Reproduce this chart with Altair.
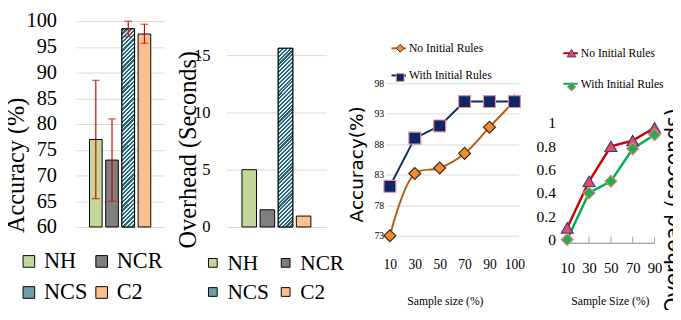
import altair as alt
import pandas as pd

# ---------------- data ----------------
methods = ["NH", "NCR", "NCS", "C2"]
acc_mean = [77.0, 73.0, 98.5, 97.5]
acc_low = [65.5, 65.0, 97.0, 95.7]
acc_high = [88.5, 81.0, 100.0, 99.4]
overhead_sec = [5.0, 1.5, 15.6, 0.95]
legend_col1 = ["NH", "NCS"]
legend_col2 = ["NCR", "C2"]

series_names = ["No Initial Rules", "With Initial Rules"]
acc_sizes = ["10", "30", "50", "70", "90", "100"]
acc_no_init = [73.0, 83.2, 84.1, 86.5, 90.8, 95.1]
acc_with_init = [81.1, 89.0, 91.0, 95.0, 95.0, 95.0]

ovh_sizes = ["10", "30", "50", "70", "90"]
ovh_no_init = [0.10, 0.50, 0.80, 0.85, 0.96]
ovh_with_init = [0.00, 0.40, 0.50, 0.78, 0.90]

acc_ticks = [60, 65, 70, 75, 80, 85, 90, 95, 100]
ovh_ticks = [0, 5, 10, 15]
acc2_ticks = [73, 78, 83, 88, 93, 98]
ovh2_ticks = [0, 0.2, 0.4, 0.6, 0.8, 1]

# ---------------- styles ----------------
SERIF = "Liberation Serif"
SANS = "DejaVu Sans"
bar_colors = ["#C4D79B", "#7F7F7F", "#6E9DAA", "#FAC08F"]
err_red = "#D00000"
grid_gray = "#D9D9D9"
axis_gray = "#A6A6A6"


def hatch(w, h, n=50, dark="#2A6677", light="#DCEBF0", frac=0.55):
    b = (w + h) * h / (h * h + w * w)
    a = b * w / h
    stops = []
    for i in range(n):
        s0, s1, s2 = i / n, (i + frac) / n, min((i + 1) / n, 1.0)
        stops += [
            alt.GradientStop(color=dark, offset=s0),
            alt.GradientStop(color=dark, offset=s1),
            alt.GradientStop(color=light, offset=s1),
            alt.GradientStop(color=light, offset=s2),
        ]
    return alt.LinearGradient(gradient="linear", stops=stops, x1=0, y1=0, x2=a, y2=b)


def spacer(w):
    # invisible rule: defines the gap width and a fixed top extent for the layout
    return (
        alt.Chart(pd.DataFrame({"v": [0]}))
        .mark_rule(opacity=0, strokeWidth=0.01)
        .encode(x=alt.X(datum=0, scale=alt.Scale(domain=[0, 1]), axis=None),
                x2=alt.datum(1), y=alt.value(-30))
        .properties(width=w, height=1)
    )


def bar_legend(values, lx, ly, size, font, offset, rowpad):
    return alt.Legend(
        values=values, orient="none", legendX=lx, legendY=ly, direction="vertical",
        title=None, symbolType="square", symbolSize=size, symbolStrokeColor="black",
        symbolStrokeWidth=1, symbolOpacity=1, labelFont=SERIF, labelFontSize=font,
        labelOffset=offset, rowPadding=rowpad, labelColor="black", padding=0,
        labelLimit=300,
    )


# ---------------- panel 1: accuracy bars ----------------
df1 = pd.DataFrame({"method": methods, "acc": acc_mean, "lo": acc_low, "hi": acc_high})
x1 = alt.X("method:N", sort=methods,
           scale=alt.Scale(paddingInner=0.22, paddingOuter=0.835), axis=None)
y1_scale = alt.Scale(domain=[60, 100], nice=False, zero=False)
ax1 = alt.Axis(
    values=acc_ticks, grid=True, gridColor=grid_gray, domain=False, ticks=False,
    labelFont=SERIF, labelFontSize=21, labelPadding=20, labelColor="black",
    title="Accuracy (%)", titleFont=SERIF, titleFontSize=25, titleFontWeight="normal",
    titleColor="black", titleX=-62, titleY=148, titleBaseline="middle")
base1 = alt.Chart(df1)
bars1 = base1.mark_bar(stroke="black", strokeWidth=1).encode(
    x=x1, y=alt.Y("acc:Q", scale=y1_scale, axis=ax1), y2=alt.datum(60),
    color=alt.Color("method:N", sort=methods,
                    scale=alt.Scale(domain=methods, range=bar_colors),
                    legend=bar_legend(legend_col1, -60, 236, 144, 23, 4, 8)))
leg1b = base1.transform_calculate(method_b="datum.method").mark_square(
    opacity=0, size=1).encode(
    x=x1, y=alt.Y("acc:Q", scale=y1_scale, axis=ax1),
    fill=alt.Fill("method_b:N", scale=alt.Scale(range=bar_colors),
                  sort=methods, legend=bar_legend(legend_col2, 15, 236, 144, 23, 4, 8)))
hatch1 = base1.transform_filter(alt.datum.method == "NCS").mark_bar(
    fill=hatch(13, 204), stroke="black", strokeWidth=1).encode(
    x=x1, y=alt.Y("acc:Q", scale=y1_scale, axis=ax1), y2=alt.datum(60))
err1 = base1.mark_rule(color=err_red, strokeWidth=1.2).encode(
    x=x1, y=alt.Y("lo:Q", scale=y1_scale, axis=ax1), y2="hi:Q")
cap_lo = base1.mark_tick(color=err_red, size=8, thickness=1.2).encode(
    x=x1, y=alt.Y("lo:Q", scale=y1_scale, axis=ax1))
cap_hi = base1.mark_tick(color=err_red, size=8, thickness=1.2).encode(
    x=x1, y=alt.Y("hi:Q", scale=y1_scale, axis=ax1))
p1 = alt.layer(bars1, leg1b, hatch1, err1, cap_lo, cap_hi).properties(width=91, height=212)

# ---------------- panel 2: overhead bars ----------------
df2 = pd.DataFrame({"method2": methods, "sec": overhead_sec})
x2 = alt.X("method2:N", sort=methods,
           scale=alt.Scale(paddingInner=0.197, paddingOuter=0.857), axis=None)
y2_scale = alt.Scale(domain=[0, 17.97], nice=False)
ax2 = alt.Axis(
    values=ovh_ticks, grid=True, gridColor=grid_gray, domain=False, ticks=False,
    labelFont=SERIF, labelFontSize=17, labelPadding=17, labelColor="black",
    title="Overhead (Seconds)", titleFont=SERIF, titleFontSize=25, titleFontWeight="normal",
    titleColor="black", titleX=-40, titleY=132, titleBaseline="middle")
base2 = alt.Chart(df2)
bars2 = base2.mark_bar(stroke="black", strokeWidth=1).encode(
    x=x2, y=alt.Y("sec:Q", scale=y2_scale, axis=ax2),
    color=alt.Color("method2:N", sort=methods,
                    scale=alt.Scale(domain=methods, range=bar_colors),
                    legend=bar_legend(legend_col1, -25, 238, 81, 22, 4, 8)))
leg2b = base2.transform_calculate(method2_b="datum.method2").mark_square(
    opacity=0, size=1).encode(
    x=x2, y=alt.Y("sec:Q", scale=y2_scale, axis=ax2),
    fill=alt.Fill("method2_b:N", scale=alt.Scale(range=bar_colors),
                  sort=methods, legend=bar_legend(legend_col2, 50, 238, 81, 22, 4, 8)))
hatch2 = base2.transform_filter(alt.datum.method2 == "NCS").mark_bar(
    fill=hatch(15, 184), stroke="black", strokeWidth=1).encode(
    x=x2, y=alt.Y("sec:Q", scale=y2_scale, axis=ax2))
p2 = alt.layer(bars2, leg2b, hatch2).properties(width=103, height=212)


# ---------------- line panels helpers ----------------
def line_legend(lx, ly, rowpad):
    return alt.Legend(
        orient="none", legendX=lx, legendY=ly, title=None, symbolType="stroke",
        symbolSize=225, symbolStrokeWidth=2, labelFont=SERIF, labelFontSize=12,
        labelOffset=2, rowPadding=rowpad, labelColor="black", padding=0,
        labelLimit=300, direction="vertical")


def marker_legend(lx, ly, rowpad, size):
    return alt.Legend(
        orient="none", legendX=lx, legendY=ly, title=None, symbolSize=size,
        symbolStrokeWidth=1, labelFont=SERIF, labelFontSize=12, labelOpacity=0,
        labelExpr="''", labelOffset=2, rowPadding=rowpad, padding=0,
        direction="vertical")


# ---------------- panel 3: accuracy vs sample size ----------------
df3 = pd.DataFrame({
    "sample": acc_sizes + acc_sizes,
    "acc": acc_no_init + acc_with_init,
    "series": [series_names[0]] * len(acc_sizes) + [series_names[1]] * len(acc_sizes),
})
x3 = alt.X("sample:N", sort=acc_sizes, scale=alt.Scale(type="point", padding=0.17),
           axis=alt.Axis(labelAngle=0, domain=False, ticks=False, grid=False,
                         labelFont=SERIF, labelFontSize=14, labelPadding=17,
                         labelColor="black", title="Sample size (%)", titleFont=SERIF,
                         titleFontSize=12, titleFontWeight="normal", titleColor="black",
                         titleX=61, titleY=61, titleBaseline="middle"))
y3_scale = alt.Scale(domain=[72.045, 108.19], nice=False, zero=False)
y3 = alt.Y("acc:Q", scale=y3_scale, axis=alt.Axis(
    values=acc2_ticks, grid=True, gridColor=grid_gray, domain=False, ticks=False,
    labelFont=SERIF, labelFontSize=10, labelPadding=2, labelColor="black",
    title="Accuracy(%)", titleFont=SANS, titleFontSize=19, titleFontWeight="normal",
    titleColor="black", titleX=-30, titleY=147, titleBaseline="middle"))
base3 = alt.Chart(df3)
color3 = alt.Color("series:N", scale=alt.Scale(domain=series_names, range=["#B65A14", "#0F2A6A"]),
                   legend=line_legend(5, 19.5, 13))
line3a = base3.transform_filter(alt.datum.series == series_names[0]).mark_line(
    interpolate="catmull-rom", strokeWidth=2).encode(x=x3, y=y3, color=color3)
line3b = base3.transform_filter(alt.datum.series == series_names[1]).mark_line(
    strokeWidth=2).encode(x=x3, y=y3, color=color3)
leg3m = marker_legend(9, 22, 18, 64)
pts3 = base3.transform_calculate(series_m="datum.series").mark_point(
    filled=True, opacity=1, strokeWidth=1.2, size=150).encode(
    x=x3, y=y3,
    fill=alt.Fill("series_m:N", scale=alt.Scale(range=["#F28C2E", "#0D2668"]), legend=leg3m),
    stroke=alt.Stroke("series_m:N", scale=alt.Scale(range=["#3A2A1A", "#E58F8F"]), legend=leg3m),
    shape=alt.Shape("series_m:N", scale=alt.Scale(range=["diamond", "square"]), legend=leg3m),
)
p3 = alt.layer(line3a, line3b, pts3).properties(width=137, height=227)

# ---------------- panel 4: overhead vs sample size ----------------
df4 = pd.DataFrame({
    "sample": ovh_sizes + ovh_sizes,
    "sec": ovh_no_init + ovh_with_init,
    "series": [series_names[0]] * len(ovh_sizes) + [series_names[1]] * len(ovh_sizes),
})
x4 = alt.X("sample:N", sort=ovh_sizes, scale=alt.Scale(type="point", padding=0),
           axis=alt.Axis(labelAngle=0, domain=False, ticks=False,
                         grid=False, labelFont=SERIF, labelFontSize=15, labelPadding=18,
                         labelColor="black", title="Sample Size (%)", titleFont=SERIF,
                         titleFontSize=12, titleFontWeight="normal", titleColor="black",
                         titleX=44, titleY=59, titleBaseline="middle"))
y4_scale = alt.Scale(domain=[-0.0333, 1.875], nice=False, zero=False)
ax4 = alt.Axis(
    values=ovh2_ticks, format="~g", grid=False, domain=False, ticks=False,
    labelFont=SERIF, labelFontSize=16, labelPadding=12, labelColor="black",
    title="Overhead (seconds)", titleFont=SANS, titleFontSize=21, titleFontWeight="normal",
    titleColor="black", titleX=109.5, titleY=195, titleBaseline="middle")
base4 = alt.Chart(df4)
y4 = alt.Y("sec:Q", scale=y4_scale, axis=ax4)
baseline4 = base4.mark_rule(color=axis_gray, strokeWidth=1).encode(
    y=alt.Y(datum=-0.0333, scale=y4_scale, axis=ax4))
ticks4 = base4.mark_tick(color=axis_gray, orient="vertical", size=7, thickness=1).encode(
    x=x4, y=alt.Y(datum=-0.004, scale=y4_scale, axis=ax4))
color4 = alt.Color("series:N", scale=alt.Scale(domain=series_names, range=["#CC0000", "#00B050"]),
                   legend=line_legend(-5, 24.5, 16.5))
line4 = base4.mark_line(strokeWidth=2.5).encode(x=x4, y=y4, color=color4)
leg4m = marker_legend(-1.5, 27, 21.5, 81)
pts4 = base4.transform_calculate(series_m="datum.series").mark_point(
    filled=True, opacity=1, strokeWidth=1.2, size=150).encode(
    x=x4, y=y4,
    fill=alt.Fill("series_m:N", scale=alt.Scale(range=["#E24C5C", "#1DAF50"]), legend=leg4m),
    stroke=alt.Stroke("series_m:N", scale=alt.Scale(range=["#3D3D8F", "#E8807A"]), legend=leg4m),
    shape=alt.Shape("series_m:N", scale=alt.Scale(range=["triangle-up", "diamond"]), legend=leg4m),
)
p4 = alt.layer(line4, baseline4, ticks4, pts4).properties(width=90, height=229)

# ---------------- compose ----------------
chart = (
    alt.hconcat(p1, spacer(11), p2, spacer(2.5), p3, spacer(11), p4, spacing=0)
    .resolve_scale(x="independent", y="independent", color="independent",
                   fill="independent", stroke="independent", shape="independent")
    .resolve_legend(color="independent", fill="independent", stroke="independent",
                    shape="independent")
    .properties(padding={"left": -4, "top": -21, "right": -11, "bottom": -8},
                background="white")
    .configure_view(stroke=None)
)

chart.save("out.html", embed_options={"renderer": "svg", "actions": False})
